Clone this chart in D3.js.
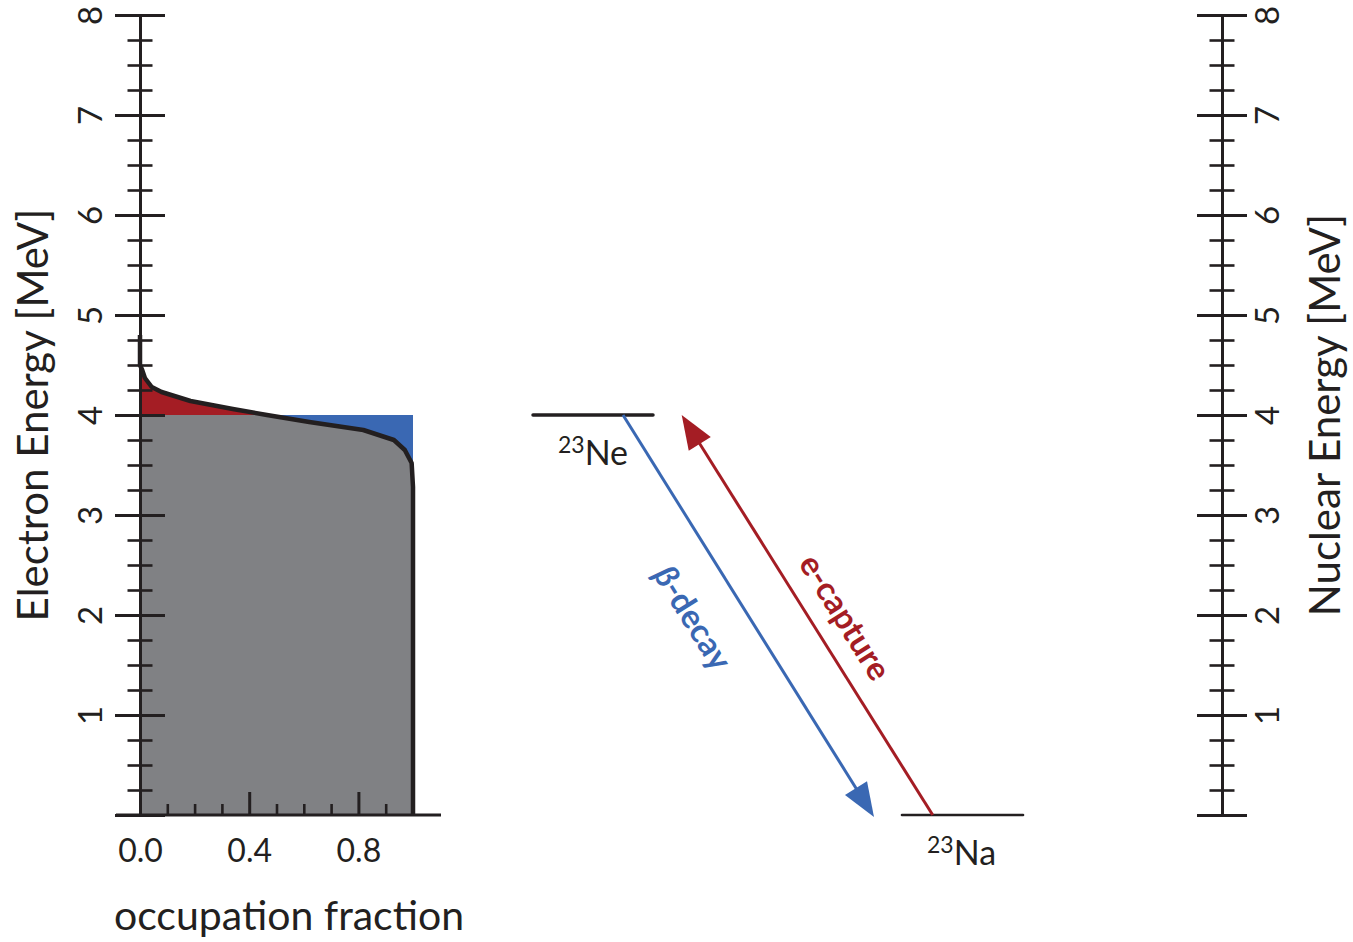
<!DOCTYPE html>
<html>
<head>
<meta charset="utf-8">
<script src="https://cdn.jsdelivr.net/npm/d3@7"></script>
<style>
  body { margin: 0; background: #fff; }
  text { font-family: Lato, "Open Sans", sans-serif; fill: #231f20; }
</style>
</head>
<body>
<svg id="chart" width="1353" height="942"></svg>
<script>
// ---- data ---------------------------------------------------------------
const energyMajorTicks = [0, 1, 2, 3, 4, 5, 6, 7, 8];
const energyTickLabels = ["", "1", "2", "3", "4", "5", "6", "7", "8"];
const fractionMajorTicks = [0, 0.4, 0.8];
const fractionTickLabels = ["0.0", "0.4", "0.8"];
const fractionMinorTicks = [0.1, 0.2, 0.3, 0.5, 0.6, 0.7, 0.9];

// electron occupation fraction vs. electron energy (MeV)
const occEnergy   = [4.80, 4.50, 4.45, 4.37, 4.28, 4.23, 4.14, 4.06, 4.00, 3.93, 3.85, 3.75, 3.65, 3.52, 3.28, 0.00];
const occFraction = [0.000, 0.000, 0.008, 0.018, 0.043, 0.079, 0.185, 0.340, 0.465, 0.620, 0.818, 0.930, 0.970, 0.995, 1.000, 1.000];
const fermiEnergy = 4.0;

// nuclear levels and the transitions between them
const levelNames  = ["Ne", "Na"];
const levelMass   = ["23", "23"];
const levelEnergy = [4, 0];
const transitionLabels = ["β-decay", "e-capture"];
const transitionFrom   = ["Ne", "Na"];
const transitionTo     = ["Na", "Ne"];

// ---- layout -------------------------------------------------------------
const ink = "#231f20", gray = "#808184", red = "#a41d24", blue = "#3a68b3";
const svg = d3.select("#chart");

const y = d3.scaleLinear().domain([0, 8]).range([815, 15]);
const x = d3.scaleLinear().domain([0, 1]).range([140, 413]);
const leftAxisX = 140, rightAxisX = 1222;

const occ = occEnergy.map((e, i) => ({ e, f: occFraction[i] }));
const below = occ.filter(d => d.e <= fermiEnergy);
const above = occ.filter(d => d.e >= fermiEnergy);

// filled regions of the occupation plot
const area = (x0, x1) => d3.area().y(d => y(d.e)).x0(x0).x1(x1);
svg.append("path").datum(below).attr("fill", gray)
  .attr("d", area(() => x(0), d => x(d.f)));
svg.append("path").datum(below).attr("fill", blue)
  .attr("d", area(d => x(d.f), () => x(1)));
svg.append("path").datum(above).attr("fill", red)
  .attr("d", area(() => x(0), d => x(d.f)));

// vertical energy axes, ticks crossing the axis line
function energyAxis(cx, labelOffset) {
  const g = svg.append("g").attr("transform", `translate(${cx},0)`);
  g.append("g")
    .call(d3.axisLeft(y).tickValues(d3.range(0, 33).map(i => i / 4)).tickFormat("").tickSizeOuter(0))
    .call(a => a.select(".domain").remove())
    .call(a => a.selectAll(".tick line").attr("x1", -12.5).attr("x2", 12.5)
      .attr("stroke", ink).attr("stroke-width", 2.6));
  g.append("g")
    .call(d3.axisLeft(y).tickValues(energyMajorTicks).tickSizeOuter(0)
      .tickFormat((d, i) => energyTickLabels[i]))
    .call(a => a.select(".domain").attr("stroke", ink).attr("stroke-width", 3))
    .call(a => a.selectAll(".tick line").attr("x1", -25).attr("x2", 25)
      .attr("stroke", ink).attr("stroke-width", 3))
    .call(a => a.selectAll(".tick text")
      .attr("x", 0).attr("y", 0).attr("dy", 0)
      .attr("transform", `translate(${labelOffset},0) rotate(-90)`)
      .attr("text-anchor", "middle")
      .attr("font-family", "Lato, 'Open Sans', sans-serif")
      .attr("font-size", 33).attr("fill", ink));
}
energyAxis(leftAxisX, -38);
energyAxis(rightAxisX, 57);

// horizontal occupation axis, ticks pointing inward
const gx = svg.append("g").attr("transform", `translate(0,${y(0)})`);
gx.append("g")
  .call(d3.axisBottom(x).tickValues(fractionMinorTicks).tickFormat("").tickSize(-11).tickSizeOuter(0))
  .call(a => a.select(".domain").remove())
  .call(a => a.selectAll(".tick line").attr("stroke", ink).attr("stroke-width", 2.6));
gx.append("g")
  .call(d3.axisBottom(x).tickValues(fractionMajorTicks).tickSize(-23).tickSizeOuter(0)
    .tickFormat((d, i) => fractionTickLabels[i]))
  .call(a => a.select(".domain").remove())
  .call(a => a.selectAll(".tick line").attr("stroke", ink).attr("stroke-width", 3))
  .call(a => a.selectAll(".tick text").attr("y", 47).attr("dy", 0)
    .attr("font-family", "Lato, 'Open Sans', sans-serif")
    .attr("font-size", 32).attr("fill", ink));
gx.append("line")
  .attr("x1", x.range()[0] - 24).attr("x2", x.range()[1] + 28)
  .attr("stroke", ink).attr("stroke-width", 3);

// occupation curve
svg.append("path").datum(occ)
  .attr("fill", "none").attr("stroke", ink).attr("stroke-width", 4.5)
  .attr("stroke-linejoin", "round")
  .attr("d", d3.line().x(d => x(d.f)).y(d => y(d.e)));

// axis titles
svg.append("text").attr("transform", `translate(48,${y(4)}) rotate(-90)`)
  .attr("text-anchor", "middle").attr("font-size", 42).text("Electron Energy [MeV]");
svg.append("text").attr("transform", `translate(1340,${y(4)}) rotate(-90)`)
  .attr("text-anchor", "middle").attr("font-size", 42).text("Nuclear Energy [MeV]");
svg.append("text").attr("x", 289).attr("y", 930)
  .attr("text-anchor", "middle").attr("font-size", 41).text("occupation fraction");

// ---- level diagram ------------------------------------------------------
const levelSpan = { Ne: [533, 653], Na: [902, 1023] };
const levelWidth = { Ne: 3.5, Na: 2.6 };
const levelLabelX = { Ne: 558, Na: 927 };
const levelLabelDy = 50;
levelNames.forEach((n, i) => {
  const ly = y(levelEnergy[i]);
  svg.append("line")
    .attr("x1", levelSpan[n][0]).attr("x2", levelSpan[n][1])
    .attr("y1", ly).attr("y2", ly)
    .attr("stroke", ink).attr("stroke-width", levelWidth[n]).attr("stroke-linecap", "round");
  const t = svg.append("text").attr("x", levelLabelX[n]).attr("y", ly + levelLabelDy);
  t.append("tspan").attr("font-size", 23).attr("dy", -12).text(levelMass[i]);
  t.append("tspan").attr("font-size", 34).attr("dy", 12).text(n);
});

const arrowX = { "β-decay": [623, 874], "e-capture": [932.7, 681.7] };
const arrowColor = { "β-decay": blue, "e-capture": red };
const labelShift = { "β-decay": [-28, 48], "e-capture": [22, -31] };
const energyOf = n => levelEnergy[levelNames.indexOf(n)];
const headLen = 34, headHalf = 13;

transitionLabels.forEach((lab, i) => {
  const x0 = arrowX[lab][0], x1 = arrowX[lab][1];
  const y0 = y(energyOf(transitionFrom[i]));
  const y1 = y(energyOf(transitionTo[i])) + (energyOf(transitionTo[i]) < energyOf(transitionFrom[i]) ? 2 : 0);
  const len = Math.hypot(x1 - x0, y1 - y0);
  const ux = (x1 - x0) / len, uy = (y1 - y0) / len;
  const bx = x1 - headLen * ux, by = y1 - headLen * uy;
  const c = arrowColor[lab];
  svg.append("line").attr("x1", x0).attr("y1", y0)
    .attr("x2", bx + 3 * ux).attr("y2", by + 3 * uy)
    .attr("stroke", c).attr("stroke-width", 3);
  svg.append("path").attr("fill", c)
    .attr("d", `M${x1},${y1}L${bx - headHalf * uy},${by + headHalf * ux}L${bx + headHalf * uy},${by - headHalf * ux}Z`);

  // label along the arrow, measured in the downward direction of the lines
  const dx = Math.abs(x1 - x0), dy = Math.abs(y1 - y0), L = Math.hypot(dx, dy);
  const ax = dx / L, ay = dy / L, nx = -ay, ny = ax;
  const mx = (x0 + x1) / 2, my = (y0 + y1) / 2;
  const [s, p] = labelShift[lab];
  const cx = mx + s * ax + p * nx, cy = my + s * ay + p * ny;
  const ang = Math.atan2(dy, dx) * 180 / Math.PI;
  const t = svg.append("text")
    .attr("transform", `translate(${cx},${cy}) rotate(${ang})`)
    .attr("text-anchor", "middle").attr("dy", "0.35em")
    .attr("font-size", 33).attr("font-weight", 700)
    .style("fill", c);
  if (lab.startsWith("β")) {
    t.append("tspan").attr("font-style", "italic").text("β");
    t.append("tspan").text(lab.slice(1));
  } else {
    t.text(lab);
  }
});
</script>
</body>
</html>
